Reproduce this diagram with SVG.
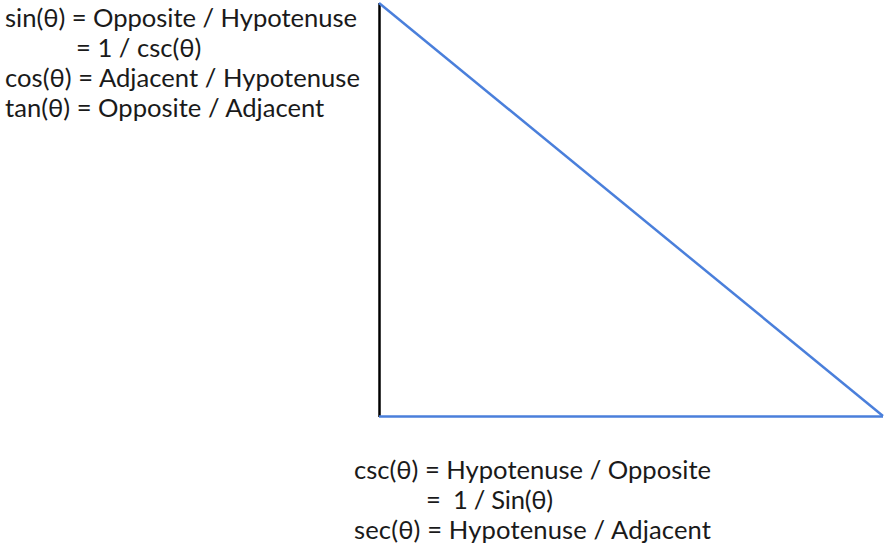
<svg xmlns="http://www.w3.org/2000/svg" width="886" height="547" viewBox="0 0 886 547">
<style>
.t{font-family:Lato,"Open Sans",sans-serif;font-size:25.6px;fill:#1a1a1a;white-space:pre}
</style>
<rect width="886" height="547" fill="#fff"/>
<g id="connectors">
<line x1="379.5" y1="3" x2="379.5" y2="417" stroke="#000" stroke-width="2.5"/>
<line x1="379" y1="416.5" x2="883" y2="416.5" stroke="#4a7fdb" stroke-width="2.5"/>
<line x1="379" y1="3" x2="883" y2="416" stroke="#4a7fdb" stroke-width="2.5"/>
</g>
<g id="top-formulas">
<text class="t" x="5" y="27" textLength="352">sin(θ) = Opposite / Hypotenuse</text>
<text class="t" x="76" y="57">= 1 / csc(θ)</text>
<text class="t" x="5" y="87" textLength="355">cos(θ) = Adjacent / Hypotenuse</text>
<text class="t" x="5" y="117">tan(θ) = Opposite / Adjacent</text>
</g>
<g id="bottom-formulas">
<text class="t" x="354" y="479" textLength="357">csc(θ) = Hypotenuse / Opposite</text>
<text class="t" x="426" y="509" xml:space="preserve" textLength="127">=  1 / Sin(θ)</text>
<text class="t" x="354" y="539" textLength="357">sec(θ) = Hypotenuse / Adjacent</text>
</g>
</svg>
